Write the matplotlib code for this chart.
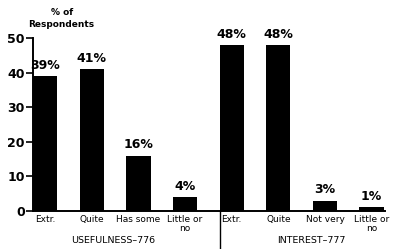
import matplotlib
matplotlib.use("Agg")
import matplotlib.pyplot as plt

# survey results, two question groups
categories = ["Extr.", "Quite", "Has some", "Little or\nno",
              "Extr.", "Quite", "Not very", "Little or\nno"]
values = [39, 41, 16, 4, 48, 48, 3, 1]
groups = ["USEFULNESS\u2013776", "INTEREST\u2013777"]
yticks = [0, 10, 20, 30, 40, 50]

plt.rcParams["font.family"] = ["DejaVu Sans"]

fig = plt.figure(figsize=(3.93, 2.49), dpi=100)
ax = fig.add_axes([0.084, 0.153, 0.896, 0.694])

x = list(range(len(values)))
ax.bar(x, values, width=0.52, color="black")
ax.set_xlim(-0.26, 7.29)
ax.set_ylim(0, 50)

for xi, v in zip(x, values):
    ax.text(xi, v + 1.2, f"{v}%", ha="center", va="bottom",
            fontsize=9, fontweight="bold")

ax.set_yticks(yticks)
ax.set_yticklabels([str(t) for t in yticks], fontsize=9, fontweight="bold")
ax.tick_params(axis="y", length=5, width=1.2, direction="out", pad=1)
ax.set_xticks(x)
ax.set_xticklabels(categories, fontsize=6.5, linespacing=1.0)
ax.tick_params(axis="x", length=0, pad=3)
for lab in ax.get_xticklabels():
    lab.set_va("top")

for s in ["top", "right"]:
    ax.spines[s].set_visible(False)
ax.spines["left"].set_linewidth(1.4)
ax.spines["bottom"].set_linewidth(1.4)

# divider between the two groups
ax.plot([3.74, 3.74], [0, -11], color="black", lw=1.0, clip_on=False)

ax.text(1.45, -8.6, groups[0], ha="center", va="center", fontsize=6.8)
ax.text(5.7, -8.6, groups[1], ha="center", va="center", fontsize=6.8)

fig.text(0.158, 0.95, "% of", ha="center", va="center", fontsize=6.5, fontweight="bold")
fig.text(0.155, 0.9, "Respondents", ha="center", va="center", fontsize=6.5, fontweight="bold")

fig.savefig("out.png", dpi=100, facecolor="white")
